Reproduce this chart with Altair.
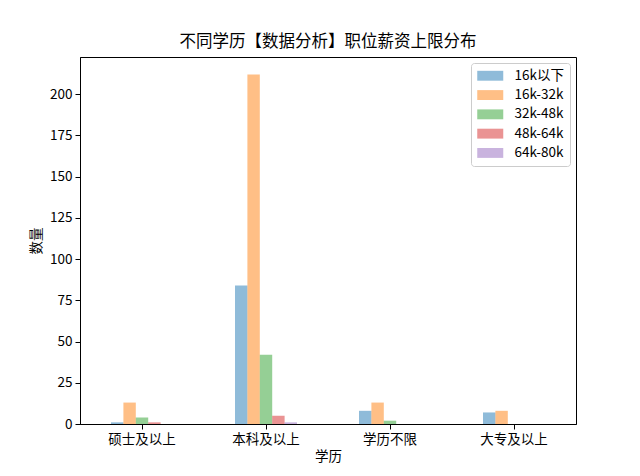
import altair as alt
import pandas as pd

categories = ["硕士及以上", "本科及以上", "学历不限", "大专及以上"]
series = ["16k以下", "16k-32k", "32k-48k", "48k-64k", "64k-80k"]
v_16k_below = [1, 84, 8, 7]
v_16_32 = [13, 212, 13, 8]
v_32_48 = [4, 42, 2, 0]
v_48_64 = [1, 5, 0, 0]
v_64_80 = [0, 1, 0, 0]
colors = ["#1f77b4", "#ff7f0e", "#2ca02c", "#d62728", "#9467bd"]

all_vals = [v_16k_below, v_16_32, v_32_48, v_48_64, v_64_80]
rows = []
for s, vals in zip(series, all_vals):
    for c, v in zip(categories, vals):
        rows.append({"学历": c, "薪资": s, "数量": v})
df = pd.DataFrame(rows)

FONT = "Noto Sans CJK SC"

chart = alt.Chart(df).mark_bar(opacity=0.5).encode(
    x=alt.X("学历:N", sort=categories,
            scale=alt.Scale(paddingInner=0.5, paddingOuter=0.25),
            axis=alt.Axis(labelAngle=0, title="学历", labelFontSize=13.5, titleFontSize=13.5,
                          labelColor="black", titleColor="black", tickColor="black",
                          domainColor="black", tickSize=5, labelPadding=3, titlePadding=4,
                          titleFontWeight="normal", labelFont=FONT, titleFont=FONT)),
    xOffset=alt.XOffset("薪资:N", sort=series, scale=alt.Scale(paddingInner=0, paddingOuter=0)),
    y=alt.Y("数量:Q", scale=alt.Scale(domain=[0, 222.6], nice=False),
            axis=alt.Axis(values=[0, 25, 50, 75, 100, 125, 150, 175, 200], grid=False,
                          title="数量", labelFontSize=13.5, titleFontSize=13.5,
                          labelColor="black", titleColor="black", tickColor="black",
                          domainColor="black", tickSize=5, labelPadding=3, titlePadding=6,
                          titleFontWeight="normal", labelFont=FONT, titleFont=FONT)),
    color=alt.Color("薪资:N", sort=series,
                    scale=alt.Scale(domain=series, range=colors),
                    legend=alt.Legend(title=None, orient="none", legendX=391, legendY=6,
                                      symbolType="M-1,-0.76L3,-0.76L3,0.76L-1,0.76Z",
                                      symbolSize=169, symbolOpacity=0.5, symbolStrokeWidth=0,
                                      labelFontSize=13.5, labelFont=FONT, labelColor="black",
                                      rowPadding=4.3, labelOffset=24,
                                      padding=6, strokeColor="#cccccc", cornerRadius=3,
                                      fillColor="white")),
).properties(
    width=496, height=367,
    title=alt.TitleParams("不同学历【数据分析】职位薪资上限分布", fontSize=16.5, font=FONT,
                          fontWeight="normal", color="black", offset=7),
    autosize=alt.AutoSizeParams(type="none"),
    padding={"left": 72, "top": 49, "right": 56, "bottom": 44},
).configure_view(stroke="black", strokeWidth=1)

chart.save("out.html", embed_options={"renderer": "svg", "actions": False})
